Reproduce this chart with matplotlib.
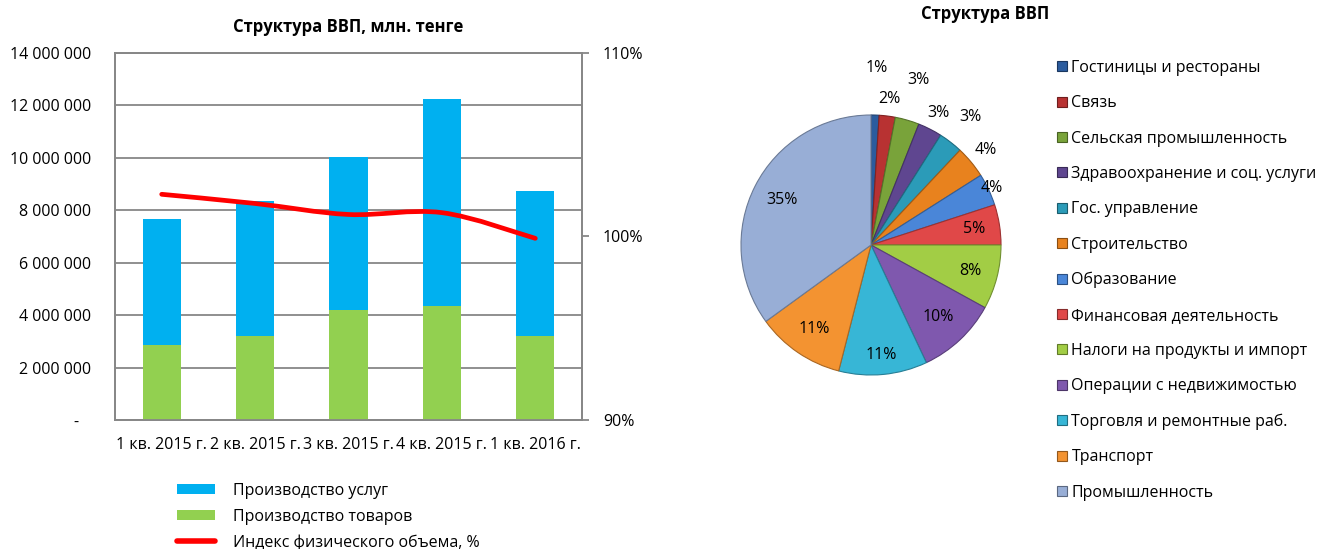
import matplotlib
matplotlib.use("Agg")
import matplotlib.pyplot as plt
from matplotlib.patches import Patch, PathPatch
from matplotlib.lines import Line2D
from matplotlib.path import Path
from matplotlib.ticker import FuncFormatter, MultipleLocator
import matplotlib.colors as mcolors
import math

plt.rcParams['font.family'] = ['Open Sans', 'DejaVu Sans']

# ---------------- data ----------------
quarters = ["1 кв. 2015 г.", "2 кв. 2015 г.", "3 кв. 2015 г.", "4 кв. 2015 г.", "1 кв. 2016 г."]
goods = [2880000, 3220000, 4180000, 4360000, 3190000]
services = [4770000, 5120000, 5850000, 7880000, 5540000]
volume_index = [102.3, 101.8, 101.2, 101.3, 99.9]

sectors = ["Гостиницы и рестораны", "Связь", "Сельская промышленность",
           "Здравоохранение и соц. услуги", "Гос. управление", "Строительство",
           "Образование", "Финансовая деятельность", "Налоги на продукты и импорт",
           "Операции с недвижимостью", "Торговля и ремонтные раб.", "Транспорт",
           "Промышленность"]
shares = [1, 2, 3, 3, 3, 4, 4, 5, 8, 10, 11, 11, 35]

sector_colors = ["#2B5C9E", "#B83232", "#79A33A", "#5F4690", "#2B9BB8", "#E8821E",
                 "#4A86D8", "#E04848", "#A2CD45", "#7F58AE", "#37B6D6", "#F39331",
                 "#98AED6"]
label_dist = [1.36, 1.13, 1.32, 1.14, 1.25, 1.15, 1.03, 0.80, 0.79, 0.76, 0.85, 0.78, 0.77]

W, H = 1321, 549
fig = plt.figure(figsize=(W / 100, H / 100), dpi=100)

def fx(px):
    return px / W

def fy(py):
    return 1 - py / H

# ---------------- left chart ----------------
ax = fig.add_axes([fx(115), fy(420), fx(582) - fx(115), fy(53) - fy(420)])
x = list(range(len(quarters)))
bw = 0.41
c_serv = "#00B0F0"
c_goods = "#92D050"
ax.bar(x, goods, width=bw, color=c_goods, zorder=3)
ax.bar(x, services, width=bw, bottom=goods, color=c_serv, zorder=3)
ax.set_xlim(-0.5, len(quarters) - 0.5)
ax.set_ylim(0, 14000000)
ax.yaxis.set_major_locator(MultipleLocator(2000000))
ax.yaxis.set_major_formatter(FuncFormatter(
    lambda v, p: "-   " if v == 0 else f"{int(v):,}".replace(",", " ")))
ax.set_xticks(x)
ax.set_xticklabels(quarters)
ax.grid(axis="y", color="#878787", linewidth=1.3, zorder=0)
gray = "#878787"
for s in ax.spines.values():
    s.set_color(gray)
    s.set_linewidth(1.3)
ax.tick_params(axis="y", length=0, pad=17, labelsize=11.5, colors="black")
ax.tick_params(axis="x", length=0, pad=12, labelsize=11.5)
ax.set_title("Структура ВВП, млн. тенге", fontsize=12, fontweight="bold", pad=15)

ax2 = ax.twinx()
ax2.set_ylim(90, 110)
ax2.set_yticks([90, 100, 110])
ax2.yaxis.set_major_formatter(FuncFormatter(lambda v, p: f"{int(v)}%"))
ax2.tick_params(axis="y", length=5, width=1.3, color=gray, pad=10, labelsize=11.5)
for s in ax2.spines.values():
    s.set_color(gray)
    s.set_linewidth(1.3)

# smooth curve through points (cubic Bezier, Catmull-Rom style)
pts = list(zip(x, volume_index))
verts = [pts[0]]
codes = [Path.MOVETO]
n = len(pts)
for i in range(n - 1):
    p0 = pts[i - 1] if i > 0 else pts[i]
    p1 = pts[i]
    p2 = pts[i + 1]
    p3 = pts[i + 2] if i + 2 < n else pts[i + 1]
    c1 = (p1[0] + (p2[0] - p0[0]) / 6, p1[1] + (p2[1] - p0[1]) / 6)
    c2 = (p2[0] - (p3[0] - p1[0]) / 6, p2[1] - (p3[1] - p1[1]) / 6)
    verts += [c1, c2, p2]
    codes += [Path.CURVE4] * 3
ax2.add_patch(PathPatch(Path(verts, codes), fill=False, edgecolor="#FF0000",
                        linewidth=3.4, capstyle="round", joinstyle="round", zorder=5))

handles = [Patch(facecolor=c_serv, edgecolor="none"),
           Patch(facecolor=c_goods, edgecolor="none"),
           Line2D([], [], color="#FF0000", linewidth=4, solid_capstyle="round")]
labels = ["Производство услуг", "Производство товаров", "Индекс физического объема, %"]
fig.legend(handles, labels, loc="upper left", bbox_to_anchor=(fx(177), fy(483)),
           frameon=False, fontsize=11.5, handlelength=2.4, handleheight=0.6,
           handletextpad=1.1, labelspacing=0.6, borderpad=0, borderaxespad=0)

# ---------------- pie chart ----------------
R = 130
cx, cy = 871, 245
half = R * 1.25
axp = fig.add_axes([fx(cx - half), fy(cy + half), 2 * half / W, 2 * half / H])
wedges, _ = axp.pie(shares, colors=sector_colors, startangle=90, counterclock=False,
                    wedgeprops=dict(linewidth=0.8))
for w, c in zip(wedges, sector_colors):
    rgb = mcolors.to_rgb(c)
    w.set_edgecolor(tuple(v * 0.7 for v in rgb))
axp.set_xlim(-1.25, 1.25)
axp.set_ylim(-1.25, 1.25)
axp.set_aspect("equal")
for w, val, d in zip(wedges, shares, label_dist):
    ang = math.radians((w.theta1 + w.theta2) / 2)
    axp.text(d * math.cos(ang), d * math.sin(ang), f"{val}%", ha="center", va="center",
             fontsize=11.5)

fig.text(fx(985), fy(14), "Структура ВВП", ha="center", va="center",
         fontsize=12, fontweight="bold")

pie_handles = [Patch(facecolor=c, edgecolor=tuple(v * 0.6 for v in mcolors.to_rgb(c)),
                     linewidth=0.8) for c in sector_colors]
fig.legend(pie_handles, sectors, loc="upper left", bbox_to_anchor=(fx(1057), fy(60)),
           frameon=False, fontsize=11.5, handlelength=0.6, handleheight=0.6,
           handletextpad=0.3, labelspacing=1.21, borderpad=0, borderaxespad=0)

fig.savefig("out.png", dpi=100)
